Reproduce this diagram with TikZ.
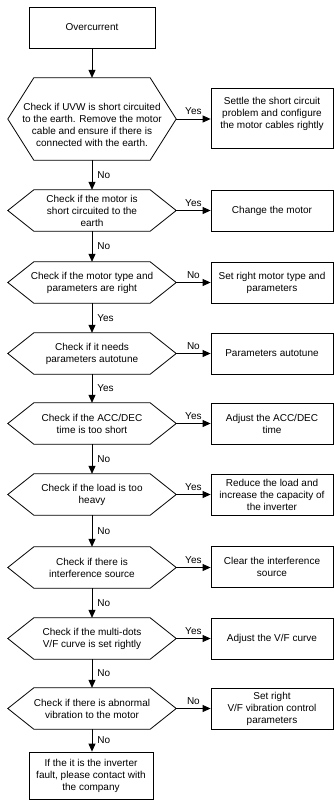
\documentclass[tikz,border=0pt]{standalone}
\usepackage{fontspec}
\setmainfont{Liberation Sans}
\usetikzlibrary{arrows.meta,calc}
\tikzset{
  every node/.style={font=\fontsize{10}{12}\selectfont, align=center, inner sep=0pt},
  rbox/.style={draw, line width=0.8pt, fill=white, minimum width=122pt, minimum height=41pt},
  mbox/.style={draw, line width=0.8pt, fill=white, minimum width=126pt, minimum height=41pt},
  hexnode/.style={minimum width=168pt, minimum height=41pt},
  arr/.style={line width=0.8pt, -{Triangle[length=8pt,width=7pt]}},
  hlbl/.style={midway, above=4pt},
  vlbl/.style={midway, right=5pt}
}
\newcommand\drawhex[1]{\draw[line width=0.8pt] (#1.west) -- ([xshift=26pt]#1.north west) -- ([xshift=-26pt]#1.north east) -- (#1.east) -- ([xshift=-26pt]#1.south east) -- ([xshift=26pt]#1.south west) -- cycle;}
\begin{document}
\begin{tikzpicture}[x=1pt,y=-1pt]
\useasboundingbox[fill=white] (0,0) rectangle (334,800);
% main column
\node[mbox] (start) at (92,27.5) {Overcurrent};
\node[hexnode, minimum height=82pt] (h1) at (92,119) {};
\node (h1t) at ([yshift=-6pt]h1.center) {Check if UVW is short circuited\\to the earth. Remove the motor\\cable and ensure if there is\\connected with the earth.};
\node[hexnode] (h2) at (92,210.5) {Check if the motor is\\short circuited to the\\earth};
\node[hexnode] (h3) at (92,282.5) {Check if the motor type and\\parameters are right};
\node[hexnode] (h4) at (92,353.5) {Check if it needs\\parameters autotune};
\node[hexnode] (h5) at (92,423.5) {Check if the ACC/DEC\\time is too short};
\node[hexnode] (h6) at (92,494.5) {Check if the load is too\\heavy};
\node[hexnode] (h7) at (92,567.5) {Check if there is\\interference source};
\node[hexnode] (h8) at (92,638.5) {Check if the multi-dots\\V/F curve is set rightly};
\node[hexnode] (h9) at (92,708.5) {Check if there is abnormal\\vibration to the motor};
\node[mbox, minimum width=124pt, minimum height=47pt] (end) at (91,775.5) {If the it is the inverter\\fault, please contact with\\the company};
\drawhex{h1}\drawhex{h2}\drawhex{h3}\drawhex{h4}\drawhex{h5}\drawhex{h6}\drawhex{h7}\drawhex{h8}\drawhex{h9}
% right column
\node[rbox, minimum height=60pt] (b1) at (272,118.5) {};
\node (b1t) at ([yshift=5pt]b1.center) {Settle the short circuit\\problem and configure\\the motor cables rightly};
\node[rbox] (b2) at (272,211) {Change the motor};
\node[rbox] (b3) at (272,282.5) {Set right motor type and\\parameters};
\node[rbox] (b4) at (272,353.5) {Parameters autotune};
\node[rbox] (b5) at (272,423.5) {Adjust the ACC/DEC\\time};
\node[rbox] (b6) at (272,494.5) {Reduce the load and\\increase the capacity of\\the inverter};
\node[rbox] (b7) at (272,567) {Clear the interference\\source};
\node[rbox] (b8) at (272,638.5) {Adjust the V/F curve};
\node[rbox] (b9) at (272,708.5) {Set right\\V/F vibration control\\parameters};
% vertical connectors
\draw[arr] (start.south) -- (h1.north);
\draw[arr] (h1.south) -- node[vlbl]{No} (h2.north);
\draw[arr] (h2.south) -- node[vlbl]{No} (h3.north);
\draw[arr] (h3.south) -- node[vlbl]{Yes} (h4.north);
\draw[arr] (h4.south) -- node[vlbl]{Yes} (h5.north);
\draw[arr] (h5.south) -- node[vlbl]{No} (h6.north);
\draw[arr] (h6.south) -- node[vlbl]{No} (h7.north);
\draw[arr] (h7.south) -- node[vlbl]{No} (h8.north);
\draw[arr] (h8.south) -- node[vlbl]{No} (h9.north);
\draw[arr] (h9.south) -- node[vlbl]{No} (end.north -| h9.south);
% horizontal connectors
\draw[arr] (h1.east) -- node[hlbl]{Yes} (b1.west |- h1.east);
\draw[arr] (h2.east) -- node[hlbl]{Yes} (b2.west |- h2.east);
\draw[arr] (h3.east) -- node[hlbl]{No} (b3.west |- h3.east);
\draw[arr] (h4.east) -- node[hlbl]{No} (b4.west |- h4.east);
\draw[arr] (h5.east) -- node[hlbl]{Yes} (b5.west |- h5.east);
\draw[arr] (h6.east) -- node[hlbl]{Yes} (b6.west |- h6.east);
\draw[arr] (h7.east) -- node[hlbl]{Yes} (b7.west |- h7.east);
\draw[arr] (h8.east) -- node[hlbl]{Yes} (b8.west |- h8.east);
\draw[arr] (h9.east) -- node[hlbl]{No} (b9.west |- h9.east);
\end{tikzpicture}
\end{document}
